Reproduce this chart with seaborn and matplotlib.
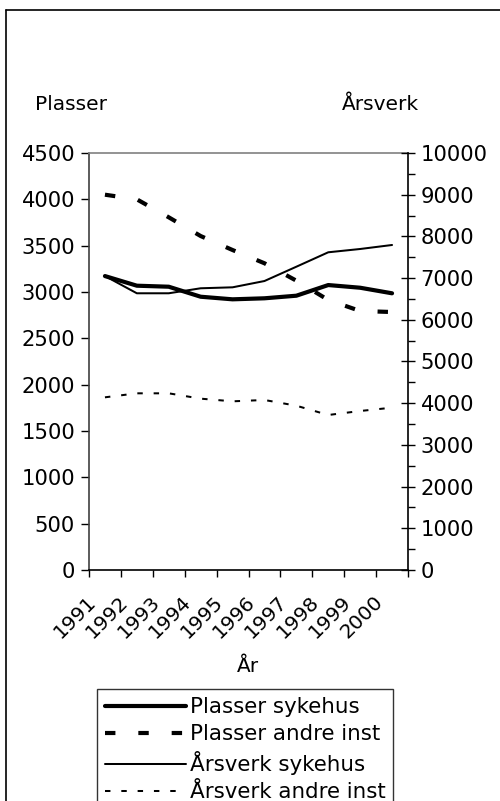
import matplotlib
matplotlib.use("Agg")
import matplotlib.pyplot as plt
import matplotlib.transforms as mtrans
from matplotlib.lines import Line2D
from matplotlib.ticker import MultipleLocator, FixedLocator
import seaborn as sns
import pandas as pd
import numpy as np

years = ["1991", "1992", "1993", "1994", "1995", "1996", "1997", "1998", "1999", "2000"]
plasser_sykehus = [3172, 3068, 3057, 2949, 2921, 2932, 2960, 3075, 3046, 2986]
plasser_andre = [4050, 4000, 3806, 3604, 3453, 3310, 3122, 2914, 2795, 2784]
arsverk_sykehus = [7050, 6636, 6636, 6756, 6779, 6930, 7273, 7619, 7698, 7794]
arsverk_andre = [4141, 4237, 4237, 4109, 4045, 4077, 3940, 3717, 3813, 3893]

left_ticks = list(range(0, 4501, 500))
right_ticks = list(range(0, 10001, 1000))

sns.set_theme(style="white")
plt.rcParams['font.family'] = ['DejaVu Sans']
plt.rcParams['text.color'] = 'black'
plt.rcParams['axes.labelcolor'] = 'black'
plt.rcParams['xtick.color'] = 'black'
plt.rcParams['ytick.color'] = 'black'
FS = 14.5
FS_TICK = 15.2
FS_LEG = 15.4

df = pd.DataFrame({
    "pos": np.arange(len(years)),
    "År": years,
    "Plasser sykehus": plasser_sykehus,
    "Plasser andre inst": plasser_andre,
    "Årsverk sykehus": arsverk_sykehus,
    "Årsverk andre inst": arsverk_andre,
})

fig = plt.figure(figsize=(5.0, 8.01), dpi=100)
ax = fig.add_axes([89/500, 1-570/801, (408-89)/500, (570-153)/801])
ax2 = ax.twinx()

thick = 3.0
thin = 1.45
dash_thick = (2.5, 5.5)
dash_thin = (2.7, 5.4)

sns.lineplot(data=df, x="pos", y="Plasser sykehus", ax=ax, color="black", lw=thick, legend=False)
sns.lineplot(data=df, x="pos", y="Plasser andre inst", ax=ax, color="black", lw=thick, legend=False)
ax.lines[-1].set_dashes(dash_thick)
sns.lineplot(data=df, x="pos", y="Årsverk sykehus", ax=ax2, color="black", lw=thin, legend=False)
sns.lineplot(data=df, x="pos", y="Årsverk andre inst", ax=ax2, color="black", lw=thin, legend=False)
ax2.lines[-1].set_dashes(dash_thin)

ax.set_xlim(-0.5, len(years) - 0.5)
ax.set_ylim(0, 4500)
ax2.set_ylim(0, 10000)
ax.set_yticks(left_ticks)
ax2.set_yticks(right_ticks)
ax2.yaxis.set_minor_locator(MultipleLocator(500))

ax.set_xlabel("")
ax.set_ylabel("")
ax2.set_ylabel("")

# x ticks at category boundaries, labels at centres
ax.xaxis.set_major_locator(FixedLocator(np.arange(-0.5, len(years), 1.0)))
ax.set_xticklabels([])
ax.set_xticks(np.arange(len(years)), minor=True)
ax.set_xticklabels(years, minor=True, rotation=45, ha="right", va="center",
                   rotation_mode="anchor", fontsize=FS)
ax.tick_params(axis="x", which="major", direction="out", length=5, width=1, color="black", bottom=True)
ax.tick_params(axis="x", which="minor", length=0, pad=21, bottom=True)
offset = mtrans.ScaledTranslation(-12/100, 0, fig.dpi_scale_trans)
for lab in ax.get_xticklabels(minor=True):
    lab.set_transform(lab.get_transform() + offset)

ax.tick_params(axis="y", which="major", direction="out", length=6, width=1, color="black",
               left=True, labelsize=FS_TICK, pad=4)
ax2.tick_params(axis="y", which="major", direction="inout", length=10, width=1, color="black",
                right=True, labelsize=FS_TICK, pad=4)
ax2.tick_params(axis="y", which="minor", direction="out", length=5, width=1, color="black", right=True)

for a in (ax, ax2):
    for s in a.spines.values():
        s.set_visible(False)
ax.spines["left"].set_visible(True)
ax.spines["left"].set_color("#404040")
ax.spines["bottom"].set_visible(True)
ax.spines["bottom"].set_color("black")
ax2.spines["right"].set_visible(True)
ax2.spines["right"].set_color("black")
ax.spines["top"].set_visible(True)
ax.spines["top"].set_color("#808080")
for s in ("left", "bottom", "top"):
    ax.spines[s].set_linewidth(1.2)
ax2.spines["right"].set_linewidth(1.2)
ax.grid(False)
ax2.grid(False)

# axis titles
fig.text(35/500, 1-104/801, "Plasser", fontsize=FS, ha="left", va="center")
fig.text(342/500, 1-104/801, "Årsverk", fontsize=FS, ha="left", va="center")
fig.text(248/500, 1-667/801, "År", fontsize=FS, ha="center", va="center")

# figure border
fig.add_artist(Line2D([6/500, 6/500], [0, 1-10/801], transform=fig.transFigure, color="black", lw=1.2))
fig.add_artist(Line2D([6/500, 1], [1-10/801, 1-10/801], transform=fig.transFigure, color="black", lw=1.2))

handles = [
    Line2D([], [], color="black", lw=thick),
    Line2D([], [], color="black", lw=thick, dashes=dash_thick),
    Line2D([], [], color="black", lw=thin),
    Line2D([], [], color="black", lw=thin, dashes=dash_thin),
]
labels = ["Plasser sykehus", "Plasser andre inst", "Årsverk sykehus", "Årsverk andre inst"]
leg = fig.legend(handles, labels, loc="upper left", bbox_to_anchor=(97/500, 1-689/801),
                 bbox_transform=fig.transFigure, fontsize=FS_LEG, frameon=True, fancybox=False,
                 handlelength=3.8, handletextpad=0.15, borderpad=0.38, labelspacing=0.33,
                 borderaxespad=0)
leg.get_frame().set_edgecolor("black")
leg.get_frame().set_linewidth(1.0)

fig.savefig("out.png", dpi=100)
